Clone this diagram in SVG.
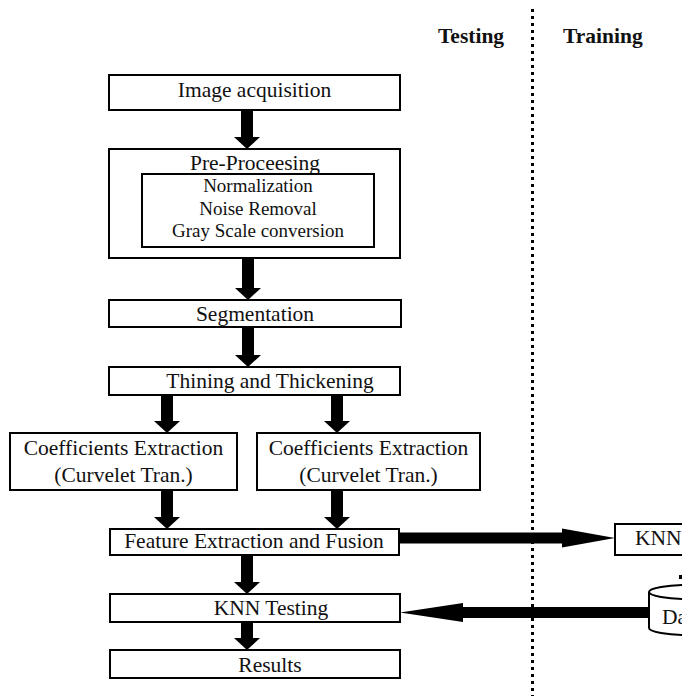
<svg xmlns="http://www.w3.org/2000/svg" width="682" height="696" viewBox="0 0 682 696">
<style>
  .box { fill: #fff; stroke: #000; stroke-width: 2; }
  .t { font-family: "Liberation Serif", "Times New Roman", serif; font-size: 21.5px; fill: #111; text-anchor: middle; }
  .ti { font-family: "Liberation Serif", "Times New Roman", serif; font-size: 19px; fill: #111; text-anchor: middle; }
  .h { font-family: "Liberation Serif", "Times New Roman", serif; font-size: 21.5px; font-weight: bold; fill: #111; }
  .av { stroke: #000; stroke-width: 12; fill: none; marker-end: url(#mv); }
  .ah { stroke: #000; stroke-width: 11; fill: none; }
  .div { stroke: #000; stroke-width: 3; stroke-dasharray: 3 4; fill: none; }
</style>
<defs>
  <marker id="mv" markerUnits="userSpaceOnUse" markerWidth="13" markerHeight="26" refX="0" refY="13" orient="auto" overflow="visible">
    <path d="M0,0 L12,13 L0,26 z" fill="#000"/>
  </marker>
  <marker id="mr" markerUnits="userSpaceOnUse" markerWidth="54" markerHeight="20" refX="0" refY="9.5" orient="auto" overflow="visible">
    <path d="M0,0 L53,9.5 L0,19 z" fill="#000"/>
  </marker>
  <marker id="ml" markerUnits="userSpaceOnUse" markerWidth="64" markerHeight="20" refX="0" refY="9.5" orient="auto" overflow="visible">
    <path d="M0,0 L63,9.5 L0,19 z" fill="#000"/>
  </marker>
</defs>
<rect width="682" height="696" fill="#fff"/>

<g id="headers">
  <text class="h" x="438" y="43">Testing</text>
  <text class="h" x="563" y="43">Training</text>
  <line class="div" x1="532.5" y1="9" x2="532.5" y2="696"/>
</g>

<g id="connectors">
  <line class="av" x1="247" y1="110" x2="247" y2="137"/>
  <line class="av" x1="248" y1="258" x2="248" y2="288"/>
  <line class="av" x1="248" y1="327" x2="248" y2="355"/>
  <line class="av" x1="167" y1="395" x2="167" y2="421"/>
  <line class="av" x1="337" y1="395" x2="337" y2="421"/>
  <line class="av" x1="167" y1="490" x2="167" y2="517"/>
  <line class="av" x1="337" y1="490" x2="337" y2="517"/>
  <line class="av" x1="247" y1="555" x2="247" y2="582"/>
  <line class="av" x1="247" y1="622" x2="247" y2="638"/>
  <line class="ah" x1="399" y1="538" x2="562" y2="538" marker-end="url(#mr)"/>
  <line class="ah" x1="650" y1="612.5" x2="463" y2="612.5" marker-end="url(#ml)"/>
  <rect x="679" y="575" width="3" height="4" fill="#000"/>
</g>

<g id="n1">
  <rect class="box" x="109" y="75" width="291" height="35"/>
  <text class="t" x="254.5" y="97">Image acquisition</text>
</g>

<g id="n2">
  <rect class="box" x="109" y="149" width="291" height="109"/>
  <text class="t" x="255" y="170">Pre-Proceesing</text>
  <rect class="box" x="142" y="174" width="232" height="73"/>
  <text class="ti" x="258" y="192">Normalization</text>
  <text class="ti" x="258" y="215">Noise Removal</text>
  <text class="ti" x="258" y="237">Gray Scale conversion</text>
</g>

<g id="n3">
  <rect class="box" x="109" y="300" width="292" height="27"/>
  <text class="t" x="255" y="321">Segmentation</text>
</g>

<g id="n4">
  <rect class="box" x="109" y="367" width="291" height="28"/>
  <text class="t" x="270" y="388">Thining and Thickening</text>
</g>

<g id="n5">
  <rect class="box" x="10" y="433" width="227" height="57"/>
  <text class="t" x="123.5" y="455">Coefficients Extraction</text>
  <text class="t" x="123.5" y="482">(Curvelet Tran.)</text>
</g>

<g id="n6">
  <rect class="box" x="257" y="433" width="223" height="57"/>
  <text class="t" x="368.5" y="455">Coefficients Extraction</text>
  <text class="t" x="368.5" y="482">(Curvelet Tran.)</text>
</g>

<g id="n7">
  <rect class="box" x="110" y="529" width="289" height="26"/>
  <text class="t" x="254" y="548">Feature Extraction and Fusion</text>
</g>

<g id="n8">
  <rect class="box" x="615" y="524" width="80" height="31"/>
  <text class="t" x="635" y="545" style="text-anchor:start">KNN</text>
</g>

<g id="n9">
  <rect class="box" x="110" y="594" width="290" height="28"/>
  <text class="t" x="271" y="615">KNN Testing</text>
</g>

<g id="n10">
  <rect class="box" x="110" y="650" width="290" height="28"/>
  <text class="t" x="270" y="672">Results</text>
</g>

<g id="n11">
  <path class="box" d="M649,592 L649,628 A41,7 0 0 0 731,628 L731,592"/>
  <ellipse class="box" cx="690" cy="592" rx="41" ry="7"/>
  <text class="t" x="662" y="624" style="text-anchor:start">Da</text>
</g>
</svg>
